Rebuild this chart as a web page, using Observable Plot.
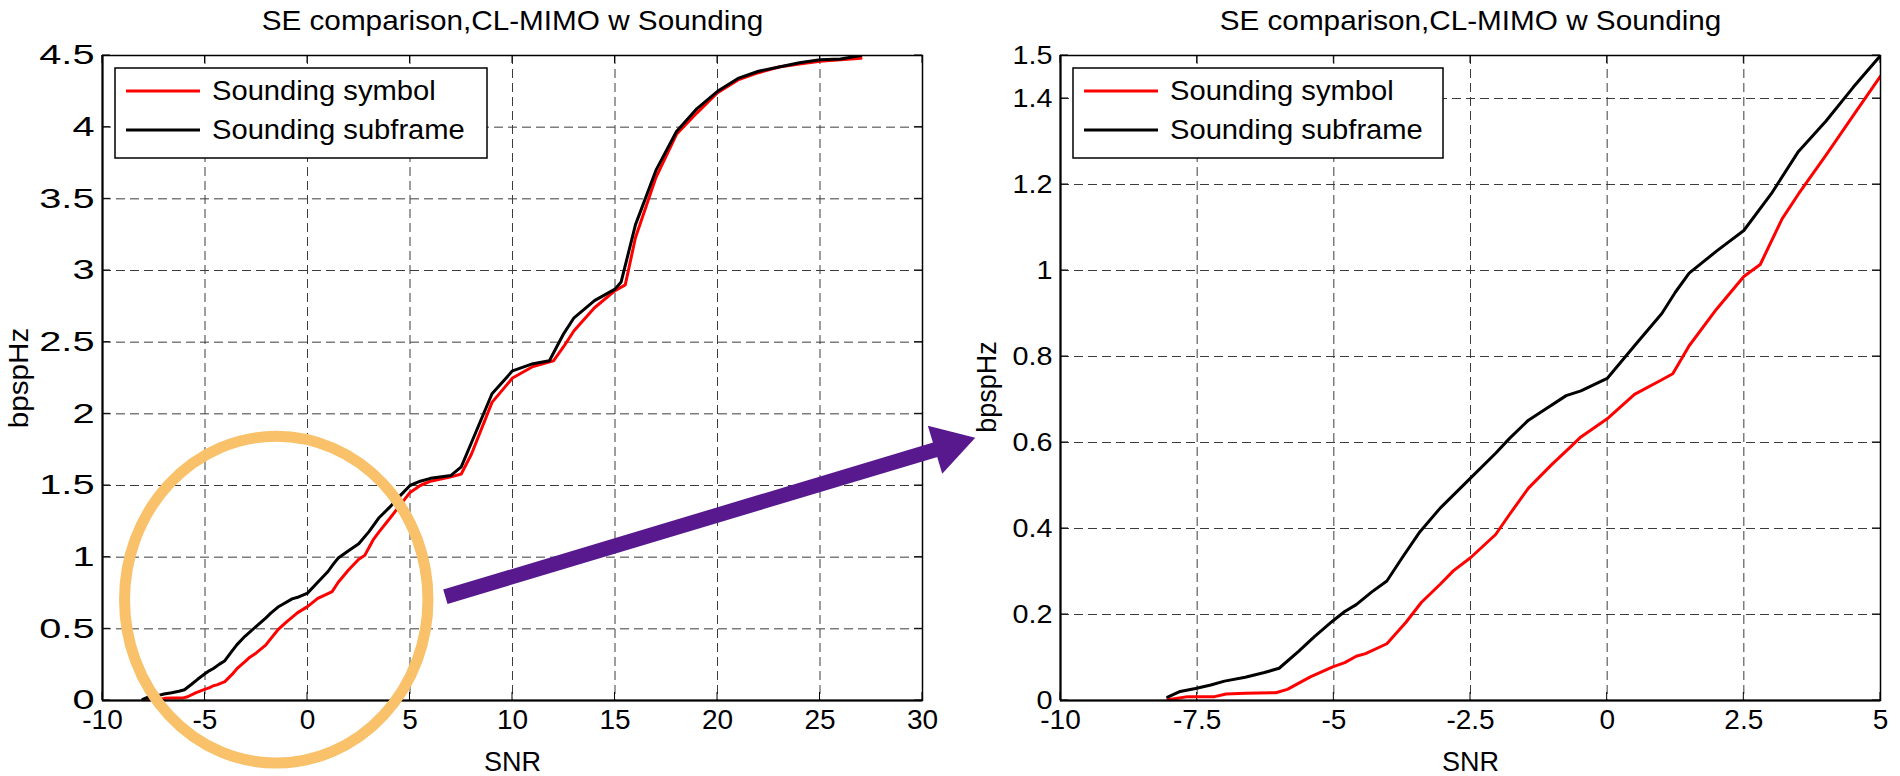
<!DOCTYPE html>
<html><head><meta charset="utf-8">
<script src="https://cdn.jsdelivr.net/npm/d3@7"></script>
<script src="https://cdn.jsdelivr.net/npm/@observablehq/plot@0.6"></script>
<style>
body{margin:0;background:#fff;}
#wrap{position:relative;width:1900px;height:776px;overflow:hidden;background:#fff;}
#wrap svg{position:absolute;top:0;}
</style></head><body><div id="wrap"></div>
<script>
// ---- text ----
const title = "SE comparison,CL-MIMO w Sounding";
const xLabel = "SNR";
const yLabel = "bpspHz";
const seriesNames = ["Sounding symbol", "Sounding subframe"];
const seriesColors = ["#ff0000", "#000000"];

// ---- data: Sounding symbol (red) ----
const symbolSnr = [-8.04,-7.67,-7.18,-6.97,-6.62,-6.06,-5.85,-5.43,-5.02,-4.80,-4.59,-4.42,-4.03,-3.68,-3.40,-3.05,-2.81,-2.5,-2.04,-1.79,-1.44,-1.02,-0.67,-0.48,0,0.5,1.0,1.2,1.5,2.0,2.5,2.8,3.2,3.5,4.0,4.5,5.0,5.5,6,7,7.5,8,9,10,11,12,12.5,13,14,15,15.5,16,17,18,19,20,21,22,23,24,25,26,27];
const symbolSe  = [0.0015,0.009,0.009,0.015,0.017,0.018,0.026,0.055,0.078,0.088,0.103,0.109,0.132,0.182,0.228,0.271,0.302,0.332,0.386,0.432,0.494,0.548,0.59,0.613,0.655,0.712,0.746,0.760,0.825,0.91,0.986,1.014,1.12,1.178,1.268,1.36,1.452,1.50,1.53,1.56,1.58,1.72,2.08,2.25,2.33,2.37,2.47,2.58,2.74,2.86,2.9,3.23,3.65,3.95,4.1,4.24,4.33,4.38,4.42,4.44,4.46,4.47,4.48];
// ---- data: Sounding subframe (black) ----
const subframeSnr = [-8.04,-7.81,-7.53,-7.25,-7.0,-6.62,-6.27,-6.0,-5.64,-5.36,-5.02,-4.80,-4.59,-4.31,-4.03,-3.75,-3.44,-3.05,-2.5,-2.04,-1.79,-1.44,-1.16,-0.75,-0.48,0,0.5,1.0,1.25,1.5,2.0,2.5,3.0,3.5,4.0,4.5,5.0,5.5,6,7,7.5,8,9,10,11,11.8,12.5,13,14,15,15.3,16,17,18,19,20,21,22,23,24,25,26,27];
const subframeSe  = [0.008,0.021,0.028,0.036,0.045,0.054,0.065,0.075,0.115,0.148,0.185,0.207,0.223,0.252,0.278,0.332,0.39,0.448,0.517,0.575,0.609,0.652,0.675,0.709,0.72,0.749,0.825,0.9,0.95,0.994,1.045,1.093,1.178,1.277,1.347,1.426,1.5,1.53,1.55,1.57,1.63,1.80,2.14,2.30,2.35,2.37,2.56,2.67,2.79,2.87,2.92,3.32,3.70,3.97,4.13,4.25,4.34,4.39,4.42,4.45,4.47,4.475,4.5];

// ---- ticks ----
const leftXTicks = [-10,-5,0,5,10,15,20,25,30];
const leftYTicks = [0,0.5,1,1.5,2,2.5,3,3.5,4,4.5];
const rightXTicks = [-10,-7.5,-5,-2.5,0,2.5,5];
const rightYTicks = [0,0.2,0.4,0.6,0.8,1,1.2,1.4,1.5];

// ---- annotations (data units) ----
const highlight = {snr: -1.5, se: 0.70, snrRadius: 7.4, seRadius: 1.14};
const arrowFrom = {snr: 6.75, se: 0.72};   // left panel
const arrowTo = {snr: -11.55, se: 0.61};   // right panel

const FONT = "'Liberation Sans', Arial, Helvetica, sans-serif";
// near-black fills used to tag text groups for horizontal stretching
const TAG = {ytick: "#000001", title: "#000002", ylabel: "#000003", xtick: "#000004", xlabel: "#000005"};

const symbolRows = symbolSnr.map((s, i) => ({snr: s, se: symbolSe[i]}));
const subframeRows = subframeSnr.map((s, i) => ({snr: s, se: subframeSe[i]}));

function innerTicks(xTicks, yTicks, len) {
  return (index, scales, values, dims) => {
    const {x, y} = scales;
    const top = dims.marginTop, bottom = dims.height - dims.marginBottom;
    const left = dims.marginLeft, right = dims.width - dims.marginRight;
    const g = d3.create("svg:g").attr("stroke", "black").attr("stroke-width", 1);
    for (const t of xTicks) {
      const px = x(t);
      g.append("line").attr("x1", px).attr("x2", px).attr("y1", bottom).attr("y2", bottom - len);
      g.append("line").attr("x1", px).attr("x2", px).attr("y1", top).attr("y2", top + len);
    }
    for (const t of yTicks) {
      const py = y(t);
      g.append("line").attr("y1", py).attr("y2", py).attr("x1", left).attr("x2", left + len);
      g.append("line").attr("y1", py).attr("y2", py).attr("x1", right).attr("x2", right - len);
    }
    return g.node();
  };
}

function legend(boxW, fs, k) {
  return (index, scales, values, dims) => {
    const x0 = dims.marginLeft + 13, y0 = dims.marginTop + 13;
    const g = d3.create("svg:g");
    g.append("rect").attr("x", x0).attr("y", y0).attr("width", boxW).attr("height", 90)
      .attr("fill", "white").attr("stroke", "black").attr("stroke-width", 1.5);
    seriesNames.forEach((name, i) => {
      const yy = y0 + 23 + i * 39;
      g.append("line").attr("x1", x0 + 11).attr("x2", x0 + 85).attr("y1", yy).attr("y2", yy)
        .attr("stroke", seriesColors[i]).attr("stroke-width", 3);
      g.append("text").attr("transform", `translate(${x0 + 97},${yy}) scale(${k},1)`).attr("dy", "0.35em")
        .attr("text-anchor", "start")
        .attr("font-size", fs).attr("font-family", FONT).attr("fill", "black").text(name);
    });
    return g.node();
  };
}

function ellipseMark(h) {
  return (index, scales) => {
    const {x, y} = scales;
    const cx = x(h.snr), cy = y(h.se);
    const rx = x(h.snr + h.snrRadius) - cx, ry = cy - y(h.se + h.seRadius);
    return d3.create("svg:ellipse").attr("cx", cx).attr("cy", cy).attr("rx", rx).attr("ry", ry)
      .attr("fill", "none").attr("stroke", "#f8c16a").attr("stroke-width", 11).node();
  };
}

function panel(o) {
  const gridX = o.xTicks.filter(t => t > o.xDomain[0] && t < o.xDomain[1]);
  const gridY = o.yTicks.filter(t => t > o.yDomain[0] && t < o.yDomain[1]);
  const fmt = d => String(d);
  const common = {textAnchor: "middle", lineAnchor: "middle"};
  const marks = [
    Plot.ruleX(gridX, {stroke: "#3c3c3c", strokeWidth: 1, strokeDasharray: "9,5"}),
    Plot.ruleY(gridY, {stroke: "#3c3c3c", strokeWidth: 1, strokeDasharray: "9,5"}),
    innerTicks(o.xTicks, o.yTicks, 8),
    Plot.line(symbolRows, {x: "snr", y: "se", stroke: seriesColors[0], strokeWidth: 3, strokeLinejoin: "round", clip: true}),
    Plot.line(subframeRows, {x: "snr", y: "se", stroke: seriesColors[1], strokeWidth: 3, strokeLinejoin: "round", clip: true}),
    Plot.frame({stroke: "black", strokeWidth: 1.5}),
    Plot.ruleX([o.xDomain[0]], {stroke: "black", strokeWidth: 2}),
    Plot.ruleY([o.yDomain[0]], {stroke: "black", strokeWidth: 2}),
    Plot.text(o.xTicks, {...common, x: d => d, frameAnchor: "bottom", dy: 19.5, text: fmt, fontSize: 28, fill: TAG.xtick}),
    Plot.text(o.yTicks, {...common, y: d => d, frameAnchor: "left", dx: -8, textAnchor: "end", text: fmt, fontSize: o.yTickFs, fill: TAG.ytick}),
    Plot.text([xLabel], {...common, frameAnchor: "bottom", dy: 62, text: d => d, fontSize: 27, fill: TAG.xlabel}),
    Plot.text([yLabel], {...common, frameAnchor: "left", dx: o.yLabelDx, dy: o.yLabelDy, rotate: -90, text: d => d, fontSize: 27, fill: TAG.ylabel}),
    Plot.text([title], {...common, frameAnchor: "top", dy: -34, text: d => d, fontSize: 27, fill: TAG.title}),
    legend(o.legendW, 27, 1.08)
  ];
  if (o.extra) marks.push(o.extra);
  return Plot.plot({
    width: 950, height: 776,
    marginLeft: o.mL, marginRight: o.mR, marginTop: 55, marginBottom: 76,
    x: {domain: o.xDomain, axis: null},
    y: {domain: o.yDomain, axis: null},
    style: {fontFamily: FONT, fontSize: "26px", background: "white", overflow: "visible"},
    marks
  });
}

// horizontal stretch of a group of texts about each text's anchor point
function widenText(svg, tag, k) {
  const groups = [...svg.querySelectorAll("g")].filter(g => (g.getAttribute("fill") || "").toLowerCase() === tag);
  groups.forEach(g => g.querySelectorAll("text").forEach(t => {
    const x = +t.getAttribute("x") || 0, y = +t.getAttribute("y") || 0;
    const tr = t.getAttribute("transform") || "";
    t.setAttribute("transform", `${tr} translate(${x},${y}) scale(${k},1) translate(${-x},${-y})`);
  }));
}

const wrap = document.getElementById("wrap");
const left = panel({xDomain: [-10, 30], yDomain: [0, 4.5], xTicks: leftXTicks, yTicks: leftYTicks,
  mL: 102, mR: 28, yLabelDx: -83, yLabelDy: 0, legendW: 372, yTickFs: 28, extra: ellipseMark(highlight)});
const right = panel({xDomain: [-10, 5], yDomain: [0, 1.5], xTicks: rightXTicks, yTicks: rightYTicks,
  mL: 110, mR: 20, yLabelDx: -73, yLabelDy: 9, legendW: 370, yTickFs: 25});
left.style.left = "0px";
right.style.left = "950px";
wrap.appendChild(left);
wrap.appendChild(right);
widenText(left, TAG.ytick, 1.42);
widenText(right, TAG.ytick, 1.15);
widenText(left, TAG.title, 1.1);
widenText(right, TAG.title, 1.1);
widenText(left, TAG.ylabel, 1.1);
widenText(right, TAG.ylabel, 1.0);

// arrow overlay, positioned through the two panels' scales
function pix(plot, offset, p) {
  const sx = plot.scale("x"), sy = plot.scale("y");
  const fx = d3.scaleLinear(sx.domain, sx.range), fy = d3.scaleLinear(sy.domain, sy.range);
  return [offset + fx(p.snr), fy(p.se)];
}
const [ax, ay] = pix(left, 0, arrowFrom);
const [bx, by] = pix(right, 950, arrowTo);
const ang = Math.atan2(by - ay, bx - ax);
const headL = 42, headW = 25;
const baseX = bx - headL * Math.cos(ang), baseY = by - headL * Math.sin(ang);
const ov = d3.create("svg").attr("width", 1900).attr("height", 776).style("left", "0px").style("pointer-events", "none");
ov.append("line").attr("x1", ax).attr("y1", ay).attr("x2", baseX + 2 * Math.cos(ang)).attr("y2", baseY + 2 * Math.sin(ang))
  .attr("stroke", "#58198e").attr("stroke-width", 15);
ov.append("polygon").attr("fill", "#58198e").attr("points", [
  [bx, by],
  [baseX - headW * Math.sin(ang), baseY + headW * Math.cos(ang)],
  [baseX + headW * Math.sin(ang), baseY - headW * Math.cos(ang)]
].map(p => p.join(",")).join(" "));
wrap.appendChild(ov.node());
</script></body></html>
